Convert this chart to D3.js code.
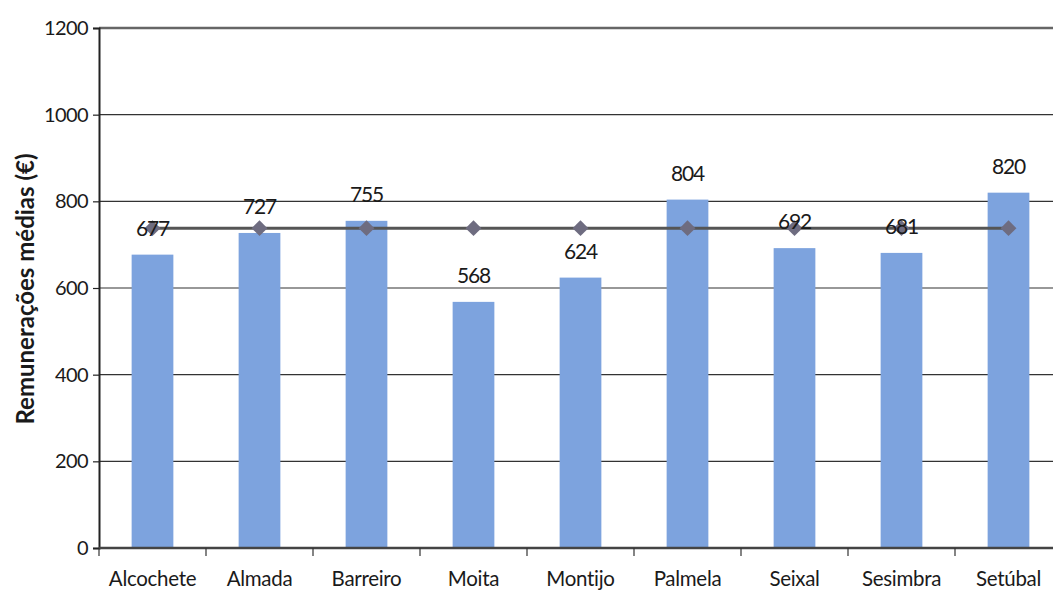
<!DOCTYPE html>
<html><head><meta charset="utf-8">
<script src="https://cdn.jsdelivr.net/npm/d3@7"></script>
<style>
html,body{margin:0;padding:0;background:#fff;}
svg text{font-family:Lato, "Open Sans", sans-serif;fill:#1a1a1a;}
</style></head>
<body><svg id="c" width="1053" height="595"></svg>
<script>
const categories = ["Alcochete","Almada","Barreiro","Moita","Montijo","Palmela","Seixal","Sesimbra","Setúbal"];
const values = [677,727,755,568,624,804,692,681,820];
const average = [738,738,738,738,738,738,738,738,738];
const yTicks = [0,200,400,600,800,1000,1200];
const yTitle = "Remunerações médias (€)";

const svg = d3.select("#c");
const mLeft = 99, mTop = 28, mBottom = 548;
const step = 107;
const mRight = mLeft + step*categories.length;

const x = d3.scaleBand().domain(categories).range([mLeft,mRight]).paddingInner(0.61).paddingOuter(0.305);
const y = d3.scaleLinear().domain([0,1200]).range([mBottom,mTop]);

// gridlines
svg.append("g").selectAll("line").data(yTicks.filter(t=>t>0)).join("line")
  .attr("x1",mLeft).attr("x2",1053)
  .attr("y1",d=>y(d)).attr("y2",d=>y(d))
  .attr("stroke",d=>d===1200?"#666":"#333")
  .attr("stroke-width",d=>d===1200?2.5:1.2);

// bars
svg.append("g").selectAll("rect").data(values).join("rect")
  .attr("x",(d,i)=>x(categories[i]))
  .attr("width",x.bandwidth())
  .attr("y",d=>y(d))
  .attr("height",d=>y(0)-y(d))
  .attr("fill","#7da3de");

// y axis
const ya = svg.append("g").attr("transform",`translate(${mLeft},0)`)
  .call(d3.axisLeft(y).tickValues(yTicks).tickFormat(d3.format("d")).tickSize(6).tickPadding(5));
ya.attr("font-family",null).attr("font-size",null);
ya.select(".domain").attr("stroke","#222").attr("stroke-width",2);
ya.selectAll(".tick line").attr("stroke","#222").attr("stroke-width",1.2);
ya.selectAll("text").attr("font-size",20).attr("fill","#1a1a1a").style("letter-spacing","-0.6px");

// x axis
const xb = d3.scaleLinear().domain([0,categories.length]).range([mLeft,mRight]);
const xa = svg.append("g").attr("transform",`translate(0,${mBottom})`);
xa.append("line").attr("x1",mLeft).attr("x2",1053).attr("y1",0).attr("y2",0)
  .attr("stroke","#444").attr("stroke-width",2.5);
xa.selectAll("line.t").data(d3.range(categories.length+1)).join("line").attr("class","t")
  .attr("x1",d=>xb(d)).attr("x2",d=>xb(d)).attr("y1",0).attr("y2",8)
  .attr("stroke","#333").attr("stroke-width",1.2);
xa.selectAll("text").data(categories).join("text")
  .attr("x",d=>x(d)+x.bandwidth()/2).attr("y",38)
  .attr("text-anchor","middle").attr("font-size",20.5)
  .style("letter-spacing","-0.3px")
  .text(d=>d);

// average line
const line = d3.line().x((d,i)=>x(categories[i])+x.bandwidth()/2).y(d=>y(d));
svg.append("path").datum(average).attr("d",line)
  .attr("fill","none").attr("stroke","#555").attr("stroke-width",3);
svg.append("g").selectAll("path").data(average).join("path")
  .attr("d",d3.symbol().type(d3.symbolDiamond2).size(160))
  .attr("transform",(d,i)=>`translate(${x(categories[i])+x.bandwidth()/2},${y(d)})`)
  .attr("fill","#6e6c80");

// value labels
svg.append("g").selectAll("text").data(values).join("text")
  .attr("x",(d,i)=>x(categories[i])+x.bandwidth()/2)
  .attr("y",d=>y(d)-19)
  .attr("text-anchor","middle").attr("font-size",21)
  .style("letter-spacing","-1.2px")
  .text(d=>d);

// y title
svg.append("text").attr("transform",`translate(34,289) rotate(-90)`)
  .attr("text-anchor","middle").attr("font-size",24).attr("font-weight","bold")
  .attr("fill","#333").text(yTitle);
</script></body></html>
